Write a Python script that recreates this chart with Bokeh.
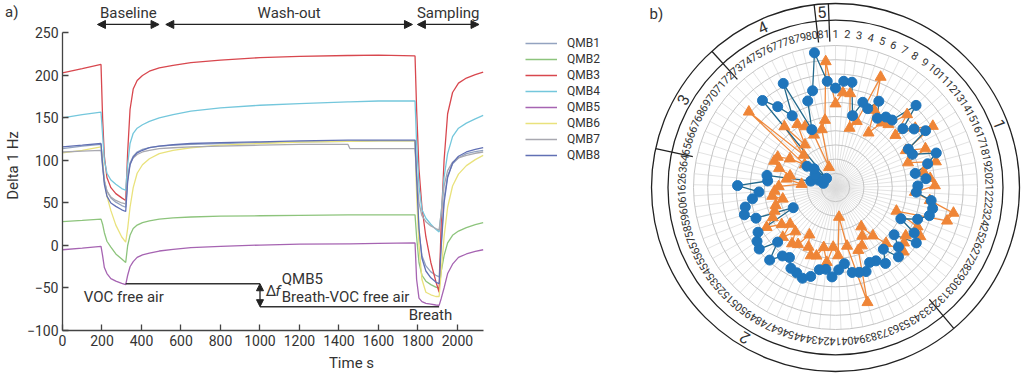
import numpy as np
from bokeh.plotting import figure
from bokeh.models import Legend, LegendItem, Arrow, NormalHead, Label, FixedTicker
from bokeh.embed import file_html
from bokeh.resources import INLINE
from bokeh.core.properties import value

FONT = "Roboto"
TXT = "#333333"

# ---------------- panel a data ----------------
time_s = [0, 100, 195, 203, 212, 225, 245, 270, 300, 320, 330, 342, 358, 378, 405, 440, 490, 560, 650, 800,
          1000, 1200, 1445, 1455, 1600, 1785, 1793, 1805, 1820, 1840, 1865, 1890, 1907, 1918, 1932, 1950,
          1975, 2005, 2045, 2090, 2130]
qmb1 = [114, 117, 119, 97, 77, 64, 56, 51, 47, 45, 78, 97, 105, 110, 113, 115, 117, 118, 119, 120,
        121, 122, 122.5, 122.5, 123, 123, 75, 15, -12, -24, -31, -35, -37, 5, 55, 82,
        96, 103, 108, 110.5, 112]
qmb2 = [28, 29.5, 31, 25, 15, 5, -2, -10, -16, -20, 0, 12, 20, 24, 27, 29, 31, 32.5, 33.5, 34.5,
        35, 35.5, 36, 36, 36, 36, 10, -20, -35, -42, -46, -49, -50, -30, -12, 3,
        12, 17, 21, 24.5, 27]
qmb3 = [203, 208, 213, 150, 105, 80, 68, 61, 56, 53, 110, 160, 184, 194, 200, 205, 209, 212, 215, 218,
        221, 222.5, 223.5, 223.5, 224, 223, 160, 90, 45, 10, -20, -42, -55, 30, 100, 155,
        180, 191, 197, 201, 204]
qmb4 = [150, 154, 157, 130, 100, 85, 77, 72, 67, 65, 95, 120, 132, 138, 142, 146, 150, 154, 158, 162,
        165, 167, 169, 169, 170, 170, 120, 70, 42, 32, 25, 19, 16, 40, 80, 108,
        128, 138, 144, 149, 153]
qmb5 = [-5, -3, -1, -12, -26, -33, -39, -42, -44.5, -46, -35, -25, -19, -14, -11, -9, -6.5, -4.5, -2.5, -1,
        0.5, 1.5, 2, 2, 2.5, 3, -40, -62, -66, -68, -69, -70, -70.5, -62, -50, -33,
        -22, -14, -10, -7, -5]
qmb6 = [109, 112, 116, 100, 75, 58, 41, 24, 10, 4, 20, 45, 68, 85, 95, 102, 108, 112, 115, 118,
        120, 121.5, 122.5, 122.5, 123, 123, 60, 0, -40, -55, -58, -60, -60, -30, 10, 45,
        70, 84, 94, 101, 106]
qmb7 = [110, 111, 112, 92, 75, 64, 57, 53, 50, 49, 80, 96, 103, 107, 110, 112, 114, 115, 116, 117,
        118, 119, 119, 114, 114, 114, 85, 50, 35, 28, 23, 20, 18, 40, 70, 88,
        98, 103, 106, 108.5, 110]
qmb8 = [116, 118, 120, 95, 72, 58, 50, 46, 42, 40, 75, 95, 104, 109, 112, 115, 117, 118.5, 120, 121,
        122, 123, 124, 124, 124, 124, 80, 20, -15, -30, -38, -43, -45, 0, 50, 80,
        97, 105, 110, 113, 115]
qmb_names = ["QMB1", "QMB2", "QMB3", "QMB4", "QMB5", "QMB6", "QMB7", "QMB8"]
qmb_colors = ["#93a3c0", "#8dc47c", "#d8474e", "#74c7dc", "#a664b2", "#e9e27c", "#a8a8b0", "#6170b4"]
x_ticks = [0, 200, 400, 600, 800, 1000, 1200, 1400, 1600, 1800, 2000]
y_ticks = [-100, -50, 0, 50, 100, 150, 200, 250]

phase_names = ["Baseline", "Wash-out", "Sampling"]
phase_start = [177, 523, 1797]
phase_end = [489, 1772, 2109]

voc_level = -45
voc_t = [320, 1000]
breath_level = -72
breath_t = [1000, 1907]

# ---------------- panel b data ----------------
positions = list(range(1, 82))
blue_r = [7.0, 7.5, 7.5, 5.2, 6.3, 6.0, 6.8, 5.7, 6.1, 6.2, 8.1, 6.3, 6.9, 7.5, 5.8, 5.9, 7.5, 6.7, 5.7, 6.4,
          5.8, 5.7, 6.8, 7.0, 6.9, 6.2, 5.1, 6.4, 6.9, 5.3, 6.1, 6.6, 5.5, 6.4, 5.9, 5.8, 6.3, 6.2, 6.1, 5.4,
          5.8, 6.3, 5.8, 5.9, 6.5, 6.8, 6.6, 6.5, 5.9, 6.1, 6.9, 5.6, 6.9, 6.7, 6.3, 3.3, 6.0, 6.7, 6.5, 5.9,
          5.4, 6.9, 4.8, 4.9, 1.8, 0.9, 1.3, 1.5, 1.7, 2.5, 2.0, 0.9, 8.0, 7.0, 5.9, 8.2, 4.4, 6.4, 7.0, 9.6,
          7.5]
orange_r = [5.9, 6.7, 6.7, 4.3, 4.9, 8.4, 6.1, 4.5, 5.6, 5.8, 7.2, 5.6, 7.0, 8.1, 5.6, 6.9, 5.4, 7.3, 6.3, 6.7,
            7.0, 5.6, 6.7, 8.5, 8.2, 4.6, 6.4, 6.9, 6.0, 6.2, 6.6, 5.3, 4.3, 3.3, 3.9, 4.5, 4.7, 8.4, 4.2, 2.1,
            4.8, 4.2, 5.3, 4.3, 5.0, 5.1, 4.6, 3.8, 4.8, 5.0, 4.2, 5.1, 4.1, 4.6, 5.6, 4.9, 4.6, 4.4, 3.8, 4.5,
            4.3, 4.0, 2.4, 3.5, 3.3, 4.2, 4.7, 4.6, 3.8, 2.7, 8.1, 3.2, 5.6, 3.7, 5.2, 4.8, 4.0, 1.5, 4.2, 4.8,
            8.9]
grid_levels = [1, 2, 3, 4, 5, 6, 7, 8, 9, 10]
section_names = ["1", "2", "3", "4", "5"]
section_first = [1, 33, 65, 73, 81]
section_last = [32, 64, 72, 80, 81]

# ---------------- panel a ----------------
pa = figure(width=640, height=375, x_range=(0, 2926.6), y_range=(-100, 288.2),
            output_backend="svg", toolbar_location=None,
            min_border_left=62, min_border_right=0, min_border_top=0, min_border_bottom=45)
pa.outline_line_color = None
pa.grid.visible = False

series = [qmb1, qmb2, qmb3, qmb4, qmb5, qmb6, qmb7, qmb8]
renderers = []
for vals, col in zip(series, qmb_colors):
    renderers.append(pa.line(time_s, vals, line_color=col, line_width=1.3))

for ax, ticks, bounds in ((pa.xaxis[0], x_ticks, (0, 2130)), (pa.yaxis[0], y_ticks, (-100, 250))):
    ax.ticker = FixedTicker(ticks=ticks)
    ax.bounds = bounds
    ax.major_tick_in = 6
    ax.major_tick_out = 0
    ax.minor_tick_line_color = None
    ax.axis_line_color = "#444444"
    ax.axis_line_width = 1.3
    ax.major_tick_line_color = "#444444"
    ax.major_tick_line_width = 1.3
    ax.major_label_text_font = FONT
    ax.major_label_text_font_size = "14px"
    ax.major_label_text_color = TXT
    ax.axis_label_text_font = FONT
    ax.axis_label_text_font_size = "15px"
    ax.axis_label_text_font_style = "normal"
    ax.axis_label_text_color = TXT
    ax.major_label_standoff = 4
pa.xaxis.axis_label = "Time s"
pa.xaxis.axis_label_standoff = 5
pa.yaxis.axis_label = "Delta 1 Hz"
pa.yaxis.axis_label_standoff = 2

# annotation levels
pa.line(voc_t, [voc_level, voc_level], line_color="#333333", line_width=1.4)
pa.line(breath_t, [breath_level, breath_level], line_color="#333333", line_width=1.4)
pa.add_layout(Arrow(start=NormalHead(size=7, fill_color="#222222", line_color="#222222"),
                    end=NormalHead(size=7, fill_color="#222222", line_color="#222222"),
                    x_start=voc_t[1], y_start=voc_level, x_end=breath_t[0], y_end=breath_level,
                    line_color="#222222", line_width=1.3))

# phase arrows
for name, s, e in zip(phase_names, phase_start, phase_end):
    pa.add_layout(Arrow(start=NormalHead(size=8, fill_color="#222222", line_color="#222222"),
                        end=NormalHead(size=8, fill_color="#222222", line_color="#222222"),
                        x_start=s, y_start=260, x_end=e, y_end=260,
                        line_color="#222222", line_width=1.3))
pa.text(x=[(s + e) / 2 for s, e in zip(phase_start, phase_end)], y=[274] * 3, text=phase_names,
        text_font=value(FONT), text_font_size="15px", text_color=TXT,
        text_align="center", text_baseline="middle")

def lab(x, y, t, size="15px", style="normal", align="left"):
    pa.add_layout(Label(x=x, y=y, text=t, text_font=FONT, text_font_size=size, text_color=TXT,
                        text_font_style=style, text_align=align, text_baseline="middle"))

lab(108, -61, "VOC free air")
lab(1753, -82, "Breath")
lab(1029, -53, "Δ")
lab(1078, -53, "f", style="italic")
lab(1110, -39, "QMB5")
lab(1110, -61, "Breath-VOC free air")

legend = Legend(items=[LegendItem(label=n, renderers=[r]) for n, r in zip(qmb_names, renderers)],
                location=(463, 167), padding=0, margin=0, spacing=0,
                glyph_width=32, glyph_height=16, label_height=16, label_standoff=10,
                label_text_font=FONT, label_text_font_size="12px", label_text_color=TXT,
                border_line_color=None, background_fill_alpha=0)
pa.add_layout(legend)

# ---------------- panel b ----------------
pb = figure(width=383, height=375, x_range=(-195, 188), y_range=(-188, 187),
            output_backend="svg", toolbar_location=None, min_border=0,
            x_axis_location=None, y_axis_location=None)
pb.grid.visible = False
pb.outline_line_color = None

SCALE = 14.2
R_OUT, R_MID, R_NUM, R_DIV, R_SEC = 184, 167.5, 154, 146, 176
n = len(positions)
step = 2 * np.pi / n
theta = np.array([(k - 1) * step for k in positions])
r_grid = max(grid_levels) * SCALE

pb.segment(x0=np.zeros(n), y0=np.zeros(n), x1=r_grid * np.sin(theta), y1=r_grid * np.cos(theta),
           line_color="#dcdcdc", line_width=0.8)
pb.circle(x=[0] * len(grid_levels), y=[0] * len(grid_levels), radius=[g * SCALE for g in grid_levels],
          fill_color=None, line_color="#c4c4c4", line_width=1)
pb.circle(x=[0, 0], y=[0, 0], radius=[R_OUT, R_MID], fill_color=None, line_color="#222222", line_width=1.3)

pb.text(x=R_NUM * np.sin(theta), y=R_NUM * np.cos(theta), text=[str(k) for k in positions],
        angle=-theta, text_font=value(FONT), text_font_size="11px", text_color=TXT,
        text_align="center", text_baseline="middle")

b_ang = [(f - 1.5) * step for f in section_first]
pb.segment(x0=[R_DIV * np.sin(a) for a in b_ang], y0=[R_DIV * np.cos(a) for a in b_ang],
           x1=[R_OUT * np.sin(a) for a in b_ang], y1=[R_OUT * np.cos(a) for a in b_ang],
           line_color="#222222", line_width=1.3)
mid_ang = np.array([((f + l) / 2 - 1) * step for f, l in zip(section_first, section_last)])
pb.text(x=R_SEC * np.sin(mid_ang), y=R_SEC * np.cos(mid_ang), text=section_names, angle=-mid_ang,
        text_font=value(FONT), text_font_size="16px", text_color=TXT,
        text_align="center", text_baseline="middle")

def polar(rs):
    rr = np.array(rs) * SCALE
    return rr * np.sin(theta), rr * np.cos(theta)

bx, by = polar(blue_r)
ox, oy = polar(orange_r)
pb.line(np.append(ox, ox[0]), np.append(oy, oy[0]), line_color="#ef8a3e", line_width=1.3)
pb.line(np.append(bx, bx[0]), np.append(by, by[0]), line_color="#23698c", line_width=1.3)
pb.scatter(ox, oy, marker="triangle", size=11, fill_color="#ef8537", line_color="#ef8537")
pb.scatter(bx, by, marker="circle", size=10, fill_color="#1f75bb", line_color="#1f75bb")

pb.add_layout(Label(x=-186, y=174, text="b)", text_font=FONT, text_font_size="15px", text_color=TXT,
                    text_baseline="middle"))

TEMPLATE = """
{% block inner_body %}
<style>html, body { margin: 0; padding: 0; }</style>
<div style="position:relative;display:flex;flex-direction:row;width:1023px;height:375px;">
<div style="position:absolute;left:5px;top:3px;z-index:10;font-family:Roboto;font-size:15px;color:#333333;">a)</div>
<div style="width:640px;height:375px;flex:none;"><div id="{{ roots[0].elementid }}" data-root-id="{{ roots[0].id }}" style="display: contents;"></div></div>
<div style="width:383px;height:375px;flex:none;"><div id="{{ roots[1].elementid }}" data-root-id="{{ roots[1].id }}" style="display: contents;"></div></div>
</div>
{{ plot_script }}
{% endblock %}
"""

open("out.html", "w").write(file_html([pa, pb], INLINE, template=TEMPLATE))
